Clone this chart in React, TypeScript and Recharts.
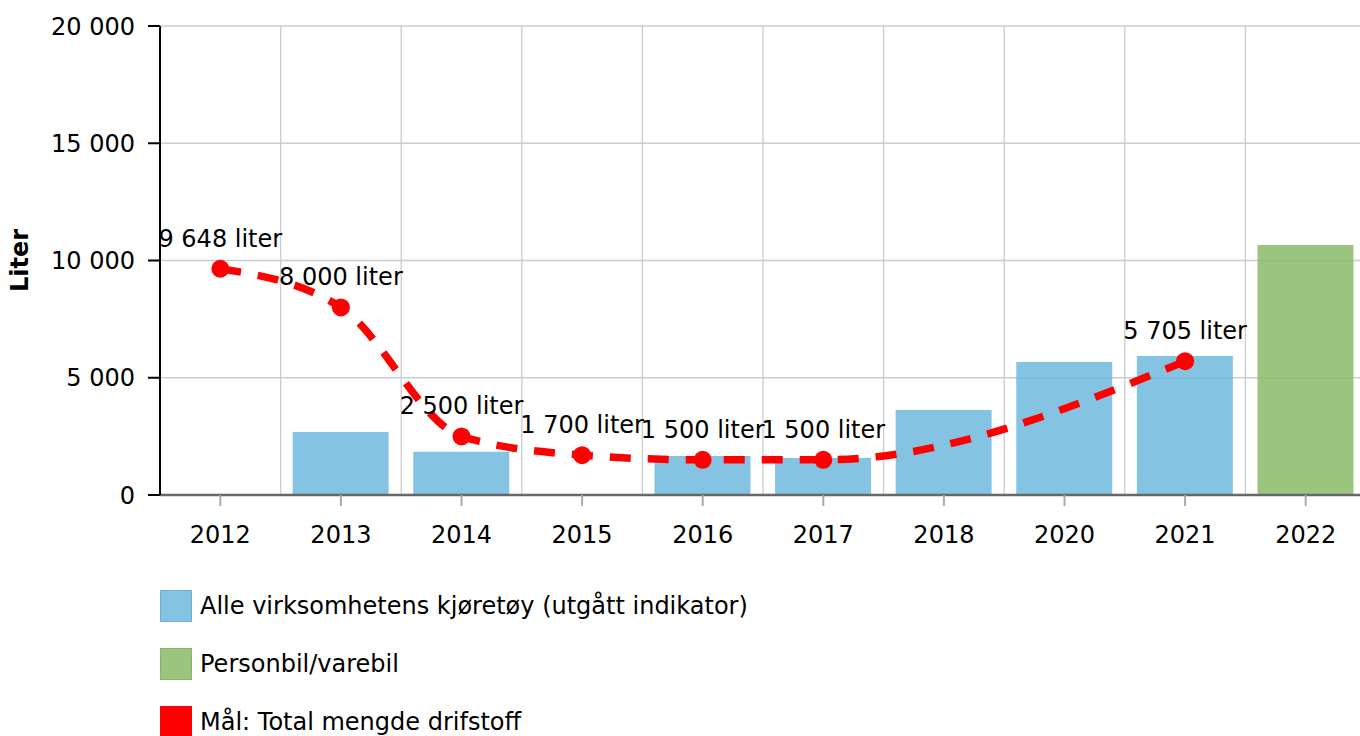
import React from 'react';
import { ComposedChart, Bar, Line, XAxis, YAxis, CartesianGrid, LabelList, Label } from 'recharts';

const years = ['2012', '2013', '2014', '2015', '2016', '2017', '2018', '2020', '2021', '2022'];
const allVehicles: (number | null)[] = [null, 2690, 1840, null, 1665, 1580, 3625, 5675, 5930, null];
const carVan: (number | null)[] = [null, null, null, null, null, null, null, null, null, 10660];
const target: (number | null)[] = [9648, 8000, 2500, 1700, 1500, 1500, null, null, 5705, null];
const yTicks = [0, 5000, 10000, 15000, 20000];

const seriesNames = {
  allVehicles: 'Alle virksomhetens kjøretøy (utgått indikator)',
  carVan: 'Personbil/varebil',
  target: 'Mål: Total mengde drifstoff',
};

const data = years.map((y, i) => ({
  year: y,
  allVehicles: allVehicles[i],
  carVan: carVan[i],
  target: target[i],
}));

const fmt = (v: number) => String(v).replace(/\B(?=(\d{3})+(?!\d))/g, ' ');

const FONT = '"DejaVu Sans", Verdana, sans-serif';

const legendItems = [
  { name: seriesNames.allVehicles, fill: '#86c3e2', border: '#6fb1d8' },
  { name: seriesNames.carVan, fill: '#9bc47e', border: '#86b566' },
  { name: seriesNames.target, fill: '#ff0000', border: '#ff0000' },
];

export default function App() {
  return (
    <div style={{ position: 'absolute', left: 0, top: 0, width: 1360, height: 736, overflow: 'hidden', fontFamily: FONT, background: '#fff' }}>
      <ComposedChart
        width={1366}
        height={736}
        data={data}
        margin={{ top: 26, right: 0, bottom: 181, left: 0 }}
        barCategoryGap="10%"
        style={{ fontFamily: FONT }}
      >
        <CartesianGrid
          stroke="#cccccc"
          strokeWidth={1.3}
          verticalCoordinatesGenerator={({ offset }: any) => {
            const band = offset.width / years.length;
            return years.slice(1).map((_, i) => offset.left + band * (i + 1));
          }}
        />
        <XAxis
          dataKey="year"
          height={60}
          axisLine={{ stroke: '#666666', strokeWidth: 2.5 }}
          tickLine={{ stroke: '#aaaaaa', strokeWidth: 2 }}
          tickSize={11}
          tickMargin={20}
          tick={{ fill: '#000', fontSize: 24, fontFamily: FONT }}
          interval={0}
        />
        <YAxis
          width={160}
          domain={[0, 20000]}
          ticks={yTicks}
          interval={0}
          tickFormatter={(v: number) => fmt(v)}
          axisLine={{ stroke: '#000', strokeWidth: 2 }}
          tickLine={{ stroke: '#000', strokeWidth: 2 }}
          tickSize={12}
          tickMargin={13}
          tick={{ fill: '#000', fontSize: 24, fontFamily: FONT }}
        >
          <Label
            content={(props: any) => {
              const vb = props.viewBox || { x: 0, y: 0, width: 160, height: 469 };
              const cx = vb.x + 20;
              const cy = vb.y + vb.height / 2;
              return (
                <text
                  x={cx}
                  y={cy}
                  transform={`rotate(-90 ${cx} ${cy})`}
                  textAnchor="middle"
                  dominantBaseline="central"
                  fontSize={24}
                  fontWeight="bold"
                  fontFamily={FONT}
                  fill="#000"
                >
                  Liter
                </text>
              );
            }}
          />
        </YAxis>
        <Bar dataKey="allVehicles" name={seriesNames.allVehicles} stackId="a" fill="#70b8dd" fillOpacity={0.85} isAnimationActive={false} />
        <Bar dataKey="carVan" name={seriesNames.carVan} stackId="a" fill="#89ba67" fillOpacity={0.85} isAnimationActive={false} />
        <Line
          dataKey="target"
          name={seriesNames.target}
          type="monotone"
          stroke="#ff0000"
          strokeWidth={7.5}
          strokeDasharray="21 17"
          connectNulls
          dot={{ r: 9, fill: '#ff0000', stroke: 'none' }}
          activeDot={false}
          isAnimationActive={false}
        >
          <LabelList
            dataKey="target"
            position="top"
            offset={22}
            fill="#000"
            fontSize={24}
            fontFamily={FONT}
            formatter={(v: any) => (v == null ? '' : `${fmt(v)} liter`)}
          />
        </Line>
      </ComposedChart>
      {legendItems.map((it, i) => (
        <div
          key={it.name}
          style={{ position: 'absolute', left: 160, top: 590 + i * 58, display: 'flex', alignItems: 'center', height: 32 }}
        >
          <div style={{ width: 32, height: 32, boxSizing: 'border-box', background: it.fill, border: `1.5px solid ${it.border}` }} />
          <span style={{ marginLeft: 8, fontSize: 24, color: '#000', fontFamily: FONT, whiteSpace: 'nowrap' }}>{it.name}</span>
        </div>
      ))}
    </div>
  );
}
